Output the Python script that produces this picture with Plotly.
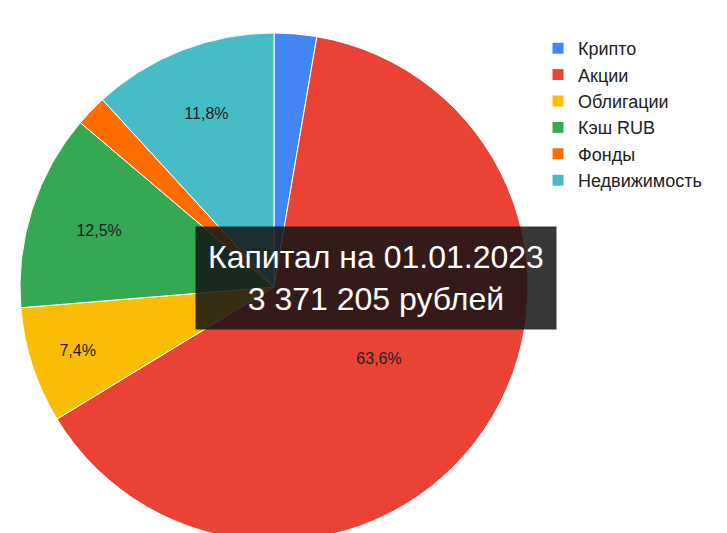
import plotly.graph_objects as go

categories = ["Крипто", "Акции", "Облигации", "Кэш RUB", "Фонды", "Недвижимость"]
shares = [2.7, 63.6, 7.4, 12.5, 2.0, 11.8]
colors = ["#4285f4", "#ea4335", "#fbbc04", "#34a853", "#ff6d01", "#46bdc6"]

labels_text = [f"{v:.1f}%".replace(".", ",") if v > 5 else "" for v in shares]

fig = go.Figure(
    go.Pie(
        labels=categories,
        values=shares,
        sort=False,
        direction="clockwise",
        rotation=0,
        marker={"colors": colors, "line": {"color": "white", "width": 1}},
        text=labels_text,
        textinfo="text",
        textposition="inside",
        insidetextorientation="horizontal",
        textfont={"color": "#222", "size": 16},
        domain={"x": [12 / 727, 520 / 727], "y": [0, 508 / 533]},
    )
)

fig.add_annotation(
    x=368 / 727,
    y=1 - 270 / 533,
    xref="paper",
    yref="paper",
    text="Капитал на 01.01.2023<br>3 371 205 рублей",
    showarrow=False,
    font={"color": "white", "size": 32, "family": "Arial"},
    bgcolor="rgba(20,20,20,0.85)",
    borderpad=12,
    align="center",
)

fig.update_layout(
    width=727,
    height=533,
    paper_bgcolor="white",
    margin={"l": 0, "r": 0, "t": 0, "b": 0},
    font={"family": "Arial", "size": 16, "color": "#222"},
    legend={"x": 530 / 727, "y": 1 - 22 / 533, "xanchor": "left", "yanchor": "top",
            "font": {"size": 18}, "itemwidth": 30},
)

fig.write_html("out.html")
